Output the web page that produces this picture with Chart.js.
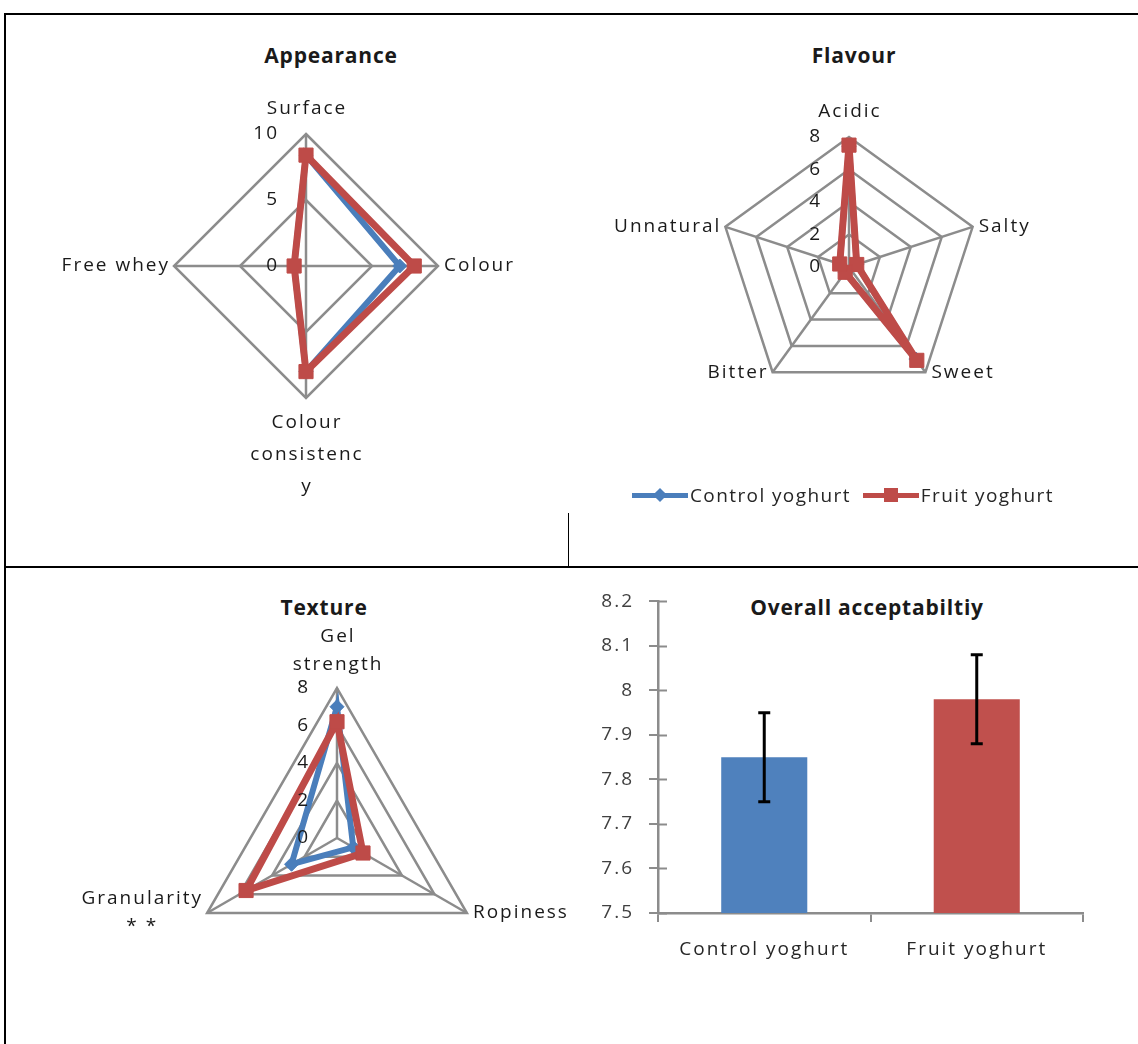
<!DOCTYPE html>
<html>
<head>
<meta charset="utf-8">
<title>Sensory evaluation of yoghurts</title>
<script src="https://cdn.jsdelivr.net/npm/chart.js@4.4.0/dist/chart.umd.min.js"></script>
<style>
  html, body { margin: 0; padding: 0; background: #fff; }
  body { width: 1138px; height: 1044px; position: relative; overflow: hidden;
         font-family: 'Open Sans', sans-serif; color: #1a1a1a; }
  canvas, .rule, .title, .legend { position: absolute; }
  .rule { background: #000; }
  .title { font-weight: bold; font-size: 21px; line-height: 1; white-space: nowrap;
           letter-spacing: 0.8px; transform: translate(-50%, -50%); }
  .legend { left: 632px; top: 483px; height: 24px; display: flex; align-items: center;
            font-size: 19px; letter-spacing: 1.4px; white-space: nowrap; color: #262626; }
  .legend .item { display: flex; align-items: center; margin-right: 12px; }
  .legend .swatch { position: relative; width: 56px; height: 5px; margin-right: 2px; }
  .legend .mark { position: absolute; left: 50%; top: 50%; }
</style>
</head>
<body>

<div class="rule" style="left:4px; top:13px; width:1134px; height:2px"></div>
<div class="rule" style="left:4px; top:13px; width:2px; height:1031px"></div>
<div class="rule" style="left:4px; top:566px; width:1134px; height:2px"></div>
<div class="rule" style="left:568px; top:513px; width:1px; height:54px"></div>

<div class="title" style="left:331px; top:55px">Appearance</div>
<div class="title" style="left:854px; top:55px">Flavour</div>
<div class="title" style="left:324px; top:607px">Texture</div>
<div class="title" style="left:867px; top:607px">Overall acceptabiltiy</div>

<canvas id="appearance" width="563" height="553" style="left:5px; top:14px"></canvas>
<canvas id="flavour" width="568" height="553" style="left:570px; top:14px"></canvas>
<canvas id="texture" width="563" height="475" style="left:5px; top:569px"></canvas>
<canvas id="overall" width="560" height="440" style="left:575px; top:575px"></canvas>
<div class="legend" id="legend"></div>

<script>
// --- DADOS ---
const seriesNames = ['Control yoghurt', 'Fruit yoghurt'];

const appearanceAxes = ['Surface', 'Colour', ['Colour', 'consistenc', 'y'], 'Free whey'];
const appearanceControl = [8.4, 7.1, 8.0, 0.9];
const appearanceFruit = [8.4, 8.2, 8.0, 0.9];
const appearanceTicks = [0, 5, 10];

const flavourAxes = ['Acidic', 'Salty', 'Sweet', 'Bitter', 'Unnatural'];
const flavourControl = [7.4, 0.5, 7.0, 0.4, 0.6];
const flavourFruit = [7.5, 0.5, 7.1, 0.4, 0.6];
const flavourTicks = [0, 2, 4, 6, 8];

const textureAxes = [['Gel', 'strength'], 'Ropiness', ['Granularity', '* *']];
const textureControl = [7.0, 1.0, 2.8];
const textureFruit = [6.2, 1.6, 5.6];
const textureTicks = [0, 2, 4, 6, 8];

const groups = ['Control yoghurt', 'Fruit yoghurt'];
const acceptMeans = [7.85, 7.98];
const acceptErrors = [0.1, 0.1];
const acceptTicks = [7.5, 7.6, 7.7, 7.8, 7.9, 8.0, 8.1, 8.2];

// --- ESTILO ---
const FONT = "'Open Sans', sans-serif";
const BLUE = '#4a7ebb';
const RED = '#be4b48';
const BAR_BLUE = '#4f81bd';
const BAR_RED = '#c0504d';
const GRID = '#8c8c8c';
const LABEL_SPACING = 2;

Chart.defaults.font.family = FONT;
Chart.defaults.color = '#1a1a1a';

// padding para que o centro e o raio caiam onde o Excel desenhou
const padFor = (canvasLeft, canvasTop, w, h, cx, cy, R) => ({
    left: cx - canvasLeft - R,
    top: cy - canvasTop - R,
    right: w - (cx - canvasLeft + R),
    bottom: h - (cy - canvasTop + R)
});

// texto do Excel sai bem espaçado
const spacing = (px) => ({
    id: 'spacing',
    beforeUpdate(chart) { chart.ctx.letterSpacing = px; },
    beforeDraw(chart) { chart.ctx.letterSpacing = px; }
});

// Rótulos no estilo Excel: eixo à esquerda, nomes nos vértices
const radarText = {
    id: 'radarText',
    afterDraw(chart, args, opts) {
        const r = chart.scales.r;
        const ctx = chart.ctx;
        ctx.save();
        ctx.fillStyle = '#1a1a1a';
        ctx.font = `19px ${FONT}`;
        ctx.letterSpacing = LABEL_SPACING + 'px';

        ctx.textAlign = 'right';
        ctx.textBaseline = 'middle';
        r.ticks.forEach(t => {
            const d = r.getDistanceFromCenterForValue(t.value);
            ctx.fillText(String(t.value), r.xCenter - 27, r.yCenter - d);
        });

        const lh = opts.lineHeight || 32;
        ctx.textAlign = 'left';
        chart.data.labels.forEach((label, i) => {
            const lines = Array.isArray(label) ? label : [label];
            const p = r.getPointPosition(i, r.drawingArea);
            const cos = Math.cos(p.angle), sin = Math.sin(p.angle);
            const widths = lines.map(l => ctx.measureText(l).width - LABEL_SPACING);
            const w = Math.max(...widths);
            const h = lines.length * lh;
            let x, y;
            if (Math.abs(cos) < 0.01) {
                x = p.x - w / 2;
                y = sin < 0 ? p.y - 9 - h : p.y + 9;
            } else {
                x = cos > 0 ? p.x + 6 : p.x - 6 - w;
                y = p.y - h / 2;
            }
            lines.forEach((l, k) => ctx.fillText(l, x + (w - widths[k]) / 2, y + lh * (k + 0.5)));
        });
        ctx.restore();
    }
};

const radarChart = (id, axes, control, fruit, ticks, max, pad, lineHeight) => {
    const series = (name, data, color, style, radius, width, order) => ({
        label: name,
        data: data,
        borderColor: color,
        backgroundColor: color,
        borderWidth: width,
        borderJoinStyle: 'miter',
        pointStyle: style,
        pointRadius: radius,
        pointBorderWidth: 1,
        fill: false,
        clip: false,
        order: order
    });
    return new Chart(document.getElementById(id), {
        type: 'radar',
        data: {
            labels: axes,
            datasets: [
                series(seriesNames[0], control, BLUE, 'rectRot', 7, 6, 2),
                series(seriesNames[1], fruit, RED, 'rect', 10, 7, 1)
            ]
        },
        options: {
            responsive: false,
            animation: false,
            layout: { padding: pad },
            plugins: {
                legend: { display: false },
                tooltip: { enabled: false },
                radarText: { lineHeight: lineHeight }
            },
            scales: {
                r: {
                    min: 0,
                    max: max,
                    afterBuildTicks: s => { s.ticks = ticks.map(v => ({ value: v })); },
                    ticks: { display: false },
                    pointLabels: { display: false },
                    grid: { color: GRID, lineWidth: 2.5 },
                    angleLines: { color: GRID, lineWidth: 2.5 }
                }
            }
        },
        plugins: [radarText]
    });
};

radarChart('appearance', appearanceAxes, appearanceControl, appearanceFruit, appearanceTicks, 10,
    padFor(5, 14, 563, 553, 306, 266, 132), 32);
radarChart('flavour', flavourAxes, flavourControl, flavourFruit, flavourTicks, 8,
    padFor(570, 14, 568, 553, 849, 267, 130), 32);
radarChart('texture', textureAxes, textureControl, textureFruit, textureTicks, 8,
    padFor(5, 569, 563, 475, 337, 838, 150), 28);

// --- BARRAS COM ERRO ---
const errorBars = {
    id: 'errorBars',
    afterDatasetsDraw(chart) {
        const y = chart.scales.y;
        const ctx = chart.ctx;
        ctx.save();
        ctx.strokeStyle = '#000';
        ctx.lineWidth = 3;
        chart.getDatasetMeta(0).data.forEach((bar, i) => {
            const top = y.getPixelForValue(acceptMeans[i] + acceptErrors[i]);
            const bottom = y.getPixelForValue(acceptMeans[i] - acceptErrors[i]);
            ctx.beginPath();
            ctx.moveTo(bar.x, top); ctx.lineTo(bar.x, bottom);
            ctx.moveTo(bar.x - 6, top); ctx.lineTo(bar.x + 6, top);
            ctx.moveTo(bar.x - 6, bottom); ctx.lineTo(bar.x + 6, bottom);
            ctx.stroke();
        });
        // marcas cruzadas do eixo y (parte de dentro)
        const left = chart.chartArea.left;
        ctx.strokeStyle = GRID;
        ctx.lineWidth = 2;
        y.ticks.forEach(t => {
            const py = Math.round(y.getPixelForValue(t.value)) + 0.5;
            ctx.beginPath();
            ctx.moveTo(left, py); ctx.lineTo(left + 9, py);
            ctx.stroke();
        });
        ctx.restore();
    }
};

new Chart(document.getElementById('overall'), {
    type: 'bar',
    data: {
        labels: groups,
        datasets: [{
            data: acceptMeans,
            backgroundColor: [BAR_BLUE, BAR_RED],
            barPercentage: 0.405,
            categoryPercentage: 1
        }]
    },
    options: {
        responsive: false,
        animation: false,
        layout: { padding: { top: 20, right: 52, bottom: 0, left: 0 } },
        plugins: { legend: { display: false }, tooltip: { enabled: false } },
        scales: {
            x: {
                afterFit: s => { s.height = 102; },
                grid: { drawOnChartArea: false, color: GRID, lineWidth: 2, tickLength: 9 },
                border: { color: GRID, width: 2.5 },
                ticks: { font: { size: 19 }, color: '#262626', padding: 16 }
            },
            y: {
                min: 7.5,
                max: 8.2,
                afterFit: s => { s.width = 83; },
                afterBuildTicks: s => { s.ticks = acceptTicks.map(v => ({ value: v })); },
                grid: { drawOnChartArea: false, color: GRID, lineWidth: 2, tickLength: 9 },
                border: { color: GRID, width: 2.5 },
                ticks: { font: { size: 19 }, color: '#404040', padding: 15, callback: v => String(v) }
            }
        }
    },
    plugins: [spacing('2px'), errorBars]
});

// --- LEGENDA ---
const legendMarks = [
    { color: BLUE, mark: 'width:10px;height:10px;transform:translate(-50%,-50%) rotate(45deg)' },
    { color: RED, mark: 'width:14px;height:14px;transform:translate(-50%,-50%)' }
];
document.getElementById('legend').innerHTML = seriesNames.map((name, i) => `
    <span class="item">
        <span class="swatch" style="background:${legendMarks[i].color}">
            <span class="mark" style="background:${legendMarks[i].color};${legendMarks[i].mark}"></span>
        </span>${name}
    </span>`).join('');
</script>
</body>
</html>
